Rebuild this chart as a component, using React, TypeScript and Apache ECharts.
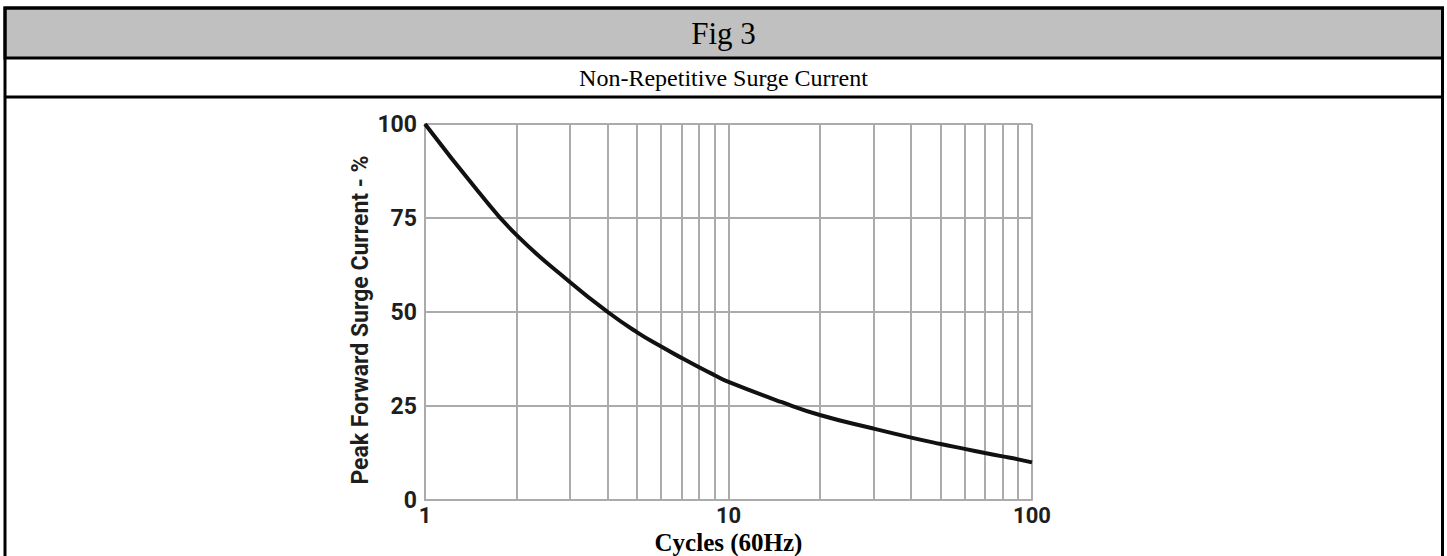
import React, { useEffect, useRef } from "react";
import * as echarts from "echarts";

const cycles = [1, 1.5, 2, 3, 4, 5, 6, 7, 8, 9, 10, 15, 20, 30, 40, 50, 60, 70, 80, 90, 100];
const surge = [100, 82, 70.5, 58, 50, 44.6, 40.8, 37.8, 35.3, 33.2, 31.4, 26, 22.6, 19, 16.6, 14.9, 13.6, 12.5, 11.6, 10.8, 10];
const minorGridX = [2, 3, 4, 5, 6, 7, 8, 9, 20, 30, 40, 50, 60, 70, 80, 90];

const figTitle = "Fig 3";
const chartTitle = "Non-Repetitive Surge Current";
const xName = "Cycles (60Hz)";
const yName = "Peak Forward Surge Current - %";

const GRID = "#ababab";
const SANS = "Roboto, 'Liberation Sans', sans-serif";
const SERIF = "'Liberation Serif', 'Times New Roman', serif";

export default function App() {
  const ref = useRef<HTMLDivElement>(null);
  useEffect(() => {
    if (!ref.current) return;
    const chart = echarts.init(ref.current, null, { renderer: "svg" });
    chart.setOption({
      animation: false,
      backgroundColor: "#ffffff",
      grid: {
        left: 425,
        right: 415,
        top: 124,
        bottom: 56,
        containLabel: false,
        outerBoundsMode: "none",
      },
      xAxis: {
        type: "log",
        logBase: 10,
        min: 1,
        max: 100,
        name: xName,
        nameLocation: "middle",
        nameGap: 30,
        nameMoveOverlap: false,
        nameTextStyle: { fontFamily: SERIF, fontWeight: "bold", fontSize: 25, lineHeight: 24, color: "#000" },
        axisLine: { show: true, lineStyle: { color: GRID, width: 2 } },
        axisTick: { show: false },
        axisLabel: { fontFamily: SANS, fontWeight: "bold", fontSize: 22, lineHeight: 20, color: "#1e1e1e", margin: 5 },
        splitLine: { show: true, lineStyle: { color: GRID, width: 2 } },
      },
      yAxis: {
        type: "value",
        min: 0,
        max: 100,
        interval: 25,
        name: yName,
        nameLocation: "middle",
        nameRotate: 90,
        nameGap: 53,
        nameMoveOverlap: false,
        nameTextStyle: {
          fontFamily: SANS,
          fontWeight: "bold",
          fontSize: 23,
          color: "#1e1e1e",
          padding: [0, 16, 0, 0],
        },
        axisLine: { show: true, lineStyle: { color: GRID, width: 2 } },
        axisTick: { show: false },
        axisLabel: { fontFamily: SANS, fontWeight: "bold", fontSize: 23, color: "#1e1e1e", margin: 8 },
        splitLine: { show: true, lineStyle: { color: GRID, width: 2 } },
      },
      series: [
        {
          type: "line",
          data: cycles.map((c, i) => [c, surge[i]]),
          smooth: true,
          showSymbol: false,
          symbol: "none",
          z: 3,
          lineStyle: { color: "#111111", width: 4 },
          markLine: {
            silent: true,
            z: 1,
            symbol: ["none", "none"],
            label: { show: false },
            lineStyle: { color: GRID, width: 2, type: "solid" },
            emphasis: { disabled: true },
            data: minorGridX.map((v) => ({ xAxis: v })),
          },
        },
      ],
      graphic: [
        {
          type: "rect",
          shape: { x: 5, y: 8, width: 1437.5, height: 50 },
          style: { fill: "#c0c0c0", stroke: "#000", lineWidth: 3 },
        },
        {
          type: "rect",
          shape: { x: 5, y: 8, width: 1437.5, height: 620 },
          style: { fill: "none", stroke: "#000", lineWidth: 3 },
        },
        {
          type: "line",
          shape: { x1: 5, y1: 97, x2: 1442.5, y2: 97 },
          style: { stroke: "#000", lineWidth: 3 },
        },
        {
          type: "text",
          x: 723.5,
          y: 33,
          style: { text: figTitle, font: `31px ${SERIF}`, fill: "#000", textAlign: "center", textVerticalAlign: "middle" },
        },
        {
          type: "text",
          x: 723.5,
          y: 78,
          style: { text: chartTitle, font: `24px ${SERIF}`, fill: "#000", textAlign: "center", textVerticalAlign: "middle" },
        },
      ],
    });
    return () => chart.dispose();
  }, []);
  return (
    <div
      ref={ref}
      style={{ position: "fixed", left: 0, top: 0, width: 1447, height: 556, background: "#fff" }}
    />
  );
}
